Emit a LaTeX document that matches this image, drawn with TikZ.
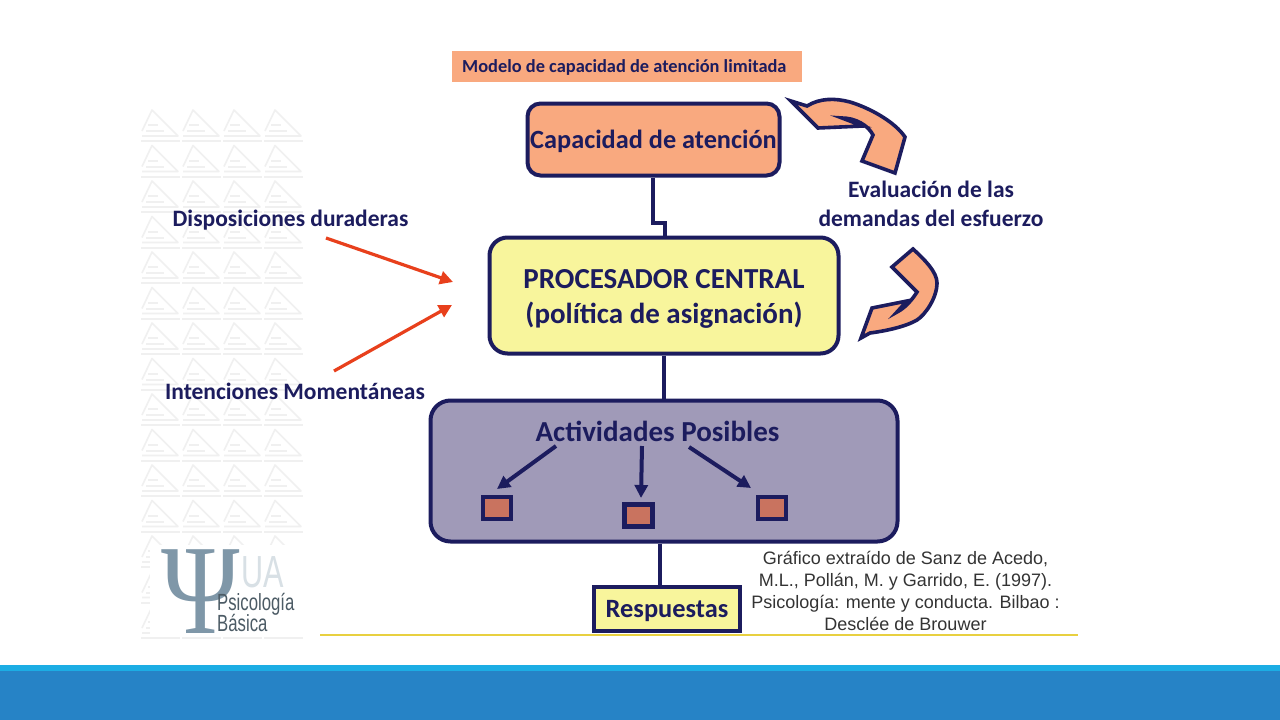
\documentclass[tikz,border=0pt]{standalone}
\usepackage{fontspec}
\setmainfont{Carlito}
\newfontfamily\arialf{Liberation Sans}
\newfontfamily\serif{Liberation Serif}
\usetikzlibrary{arrows.meta,shapes.misc}
\definecolor{navy}{HTML}{1C1C5E}
\definecolor{peach}{HTML}{F9A97F}
\definecolor{lemon}{HTML}{F8F59C}
\definecolor{lilac}{HTML}{A09AB8}
\definecolor{brick}{HTML}{C9735F}
\definecolor{redarrow}{HTML}{E8401C}
\definecolor{wm}{HTML}{F0F0F0}
\definecolor{psi}{HTML}{7F97A8}
\definecolor{bandtop}{HTML}{1CADE4}
\definecolor{bandmain}{HTML}{2683C6}
\definecolor{rulecol}{HTML}{E8D040}
\tikzset{
  x=1pt,y=-1pt,
  rbox/.style={draw=navy,line width=4pt,rounded corners=13pt,inner sep=0pt,align=center,text=navy,font=\bfseries},
  sq/.style={draw=navy,line width=4.5pt,fill=brick,inner sep=0pt,minimum width=28pt,minimum height=22pt},
  lbl/.style={text=navy,font=\fontsize{23.5}{29}\bfseries\selectfont,align=center,inner sep=0pt},
  link/.style={draw=navy,line width=4pt},
  subarrow/.style={draw=navy,line width=4pt,-{Triangle[length=13pt,width=13pt]},shorten >=0pt},
  redarr/.style={draw=redarrow,line width=3.2pt,-{Triangle[length=13pt,width=13pt]}},
  curvearrow/.style={draw=navy,line width=3.6pt,fill=peach,line join=miter}
}
\begin{document}
\begin{tikzpicture}
\useasboundingbox (0,0) rectangle (1280,720);
\fill[white] (0,0) rectangle (1280,720);
% watermark
\foreach \r in {0,...,14}{\foreach \c in {0,...,3}{
  \begin{scope}[shift={(140+\c*41,108+\r*35.5)}]
    \draw[wm,line width=1.6pt,line join=round] (2,23) -- (12,2) -- (38,28) -- (2,28);
    \draw[wm,line width=2pt] (8,17) -- (18,17) (6,23) -- (24,23) (1,33) -- (40,33);
  \end{scope}}}
% logo
\fill[white] (150,545) rectangle (307,636);
\node[inner sep=0pt,text=psi] (logopsi) at (201,592) {\scalebox{0.83}[1]{\serif\fontsize{128}{128}\selectfont Ψ}};
\node[inner sep=0pt,text=psi!30,anchor=west] (logoua) at (241,572) {\scalebox{0.85}[1.25]{\arialf\fontsize{36}{36}\selectfont UA}};
\node[inner sep=0pt,text=psi!60!black,anchor=west] (logo1) at (217,604) {\scalebox{0.93}[1.3]{\arialf\fontsize{18}{18}\selectfont Psicología}};
\node[inner sep=0pt,text=psi!60!black,anchor=west] (logo2) at (217,623) {\scalebox{0.93}[1.3]{\arialf\fontsize{18}{18}\selectfont Básica}};
% title
\node[fill=peach,minimum width=350pt,minimum height=31pt,inner sep=0pt] (title) at (627,66.5) {};
\node[text=navy,inner sep=0pt,font=\fontsize{18.4}{20}\bfseries\selectfont,anchor=west] (titletxt) at (462,67.5) {Modelo de capacidad de atención limitada};
% connectors
\coordinate (j1) at (653,223);
\coordinate (j2) at (665,223);
% boxes
\node[rbox,fill=peach,minimum width=252pt,minimum height=72pt] (cap) at (653.5,139.5) {};
\node[inner sep=0pt,text=navy,font=\fontsize{26.3}{30}\bfseries\selectfont] (captxt) at (653.5,141) {Capacidad de atención};
\node[rbox,fill=lemon,minimum width=349pt,minimum height=116pt,rounded corners=18pt] (proc) at (664,295.5) {};
\node[inner sep=0pt,align=center,text=navy,font=\fontsize{29}{35}\bfseries\selectfont] (proctxt) at (664,298.5) {PROCESADOR CENTRAL\\(política de asignación)};
\node[rbox,fill=lilac,minimum width=467pt,minimum height=141pt,rounded corners=20pt] (act) at (664,471) {};
\node[lbl,font=\fontsize{29}{30}\bfseries\selectfont] (acttxt) at (657.5,431) {Actividades Posibles};
\node[draw=navy,line width=4.5pt,fill=lemon,minimum width=146pt,minimum height=44pt,inner sep=0pt] (resp) at (667,609) {};
\node[inner sep=0pt,text=navy,font=\fontsize{26.4}{28}\bfseries\selectfont] (resptxt) at (667,611.5) {Respuestas};
\draw[link] (cap.south -| j1) -- (j1) -- (j2) -- (proc.north -| j2);
\draw[link] (proc.south) -- (act.north);
\coordinate (j3) at (660,560);
\draw[link] (act.south -| j3) -- (resp.north -| j3);
% sub boxes
\node[sq] (s1) at (497,508) {};
\node[sq] (s2) at (638.5,515.5) {};
\node[sq] (s3) at (772,508) {};
\coordinate (a1) at (556,446);\coordinate (a2) at (642,446);\coordinate (a3) at (689,447);
\coordinate (b1) at (497,489);\coordinate (b2) at (641,498);\coordinate (b3) at (751,488);
\draw[subarrow] (a1) -- (b1);
\draw[subarrow] (a2) -- (b2);
\draw[subarrow] (a3) -- (b3);
% labels
\node[lbl] (disp) at (290.5,220) {Disposiciones duraderas};
\node[lbl] (inte) at (295,391) {Intenciones Momentáneas};
\node[lbl] (eval) at (931,204) {Evaluación de las\\demandas del esfuerzo};
\coordinate (r1) at (326,238);\coordinate (r1e) at (453,282);
\coordinate (r2) at (334,371);\coordinate (r2e) at (452,305);
\draw[redarr] (r1) -- (r1e);
\draw[redarr] (r2) -- (r2e);
% curved arrows
\draw[curvearrow] (791,101) -- (807,106) .. controls (820,98) and (835,98) .. (850,102)
  .. controls (870,108) and (895,122) .. (905,137) -- (895,173) -- (862,161) -- (873,135)
  .. controls (868,125) and (855,118) .. (842,118) -- (863,126) -- (818,128) -- cycle;
\draw[curvearrow] (861,338) -- (872,308) -- (907,301) -- (897,312) .. controls (905,308) and (912,300) .. (917,292)
  -- (892,267) -- (913,249) .. controls (925,260) and (937,272) .. (937,283)
  .. controls (937,298) and (925,315) .. (917,320) .. controls (905,327) and (885,331) .. (870,333) -- cycle;
% credit
\node[inner sep=0pt,align=center,text=black!80,font=\arialf\fontsize{18}{22.2}\selectfont] (credit) at (905.5,591) {Gráfico extraído de Sanz de Acedo,\\M.L., Pollán, M. y Garrido, E. (1997).\\Psicología: mente y conducta. Bilbao :\\Desclée de Brouwer};
% rule and band
\coordinate (l1) at (320,635);\coordinate (l2) at (1078,635);
\draw[draw=rulecol,line width=1.2pt] (l1) -- (l2);
\fill[bandtop] (0,665) rectangle (1280,672);
\fill[bandmain] (0,671) rectangle (1280,720);
\end{tikzpicture}
\end{document}
